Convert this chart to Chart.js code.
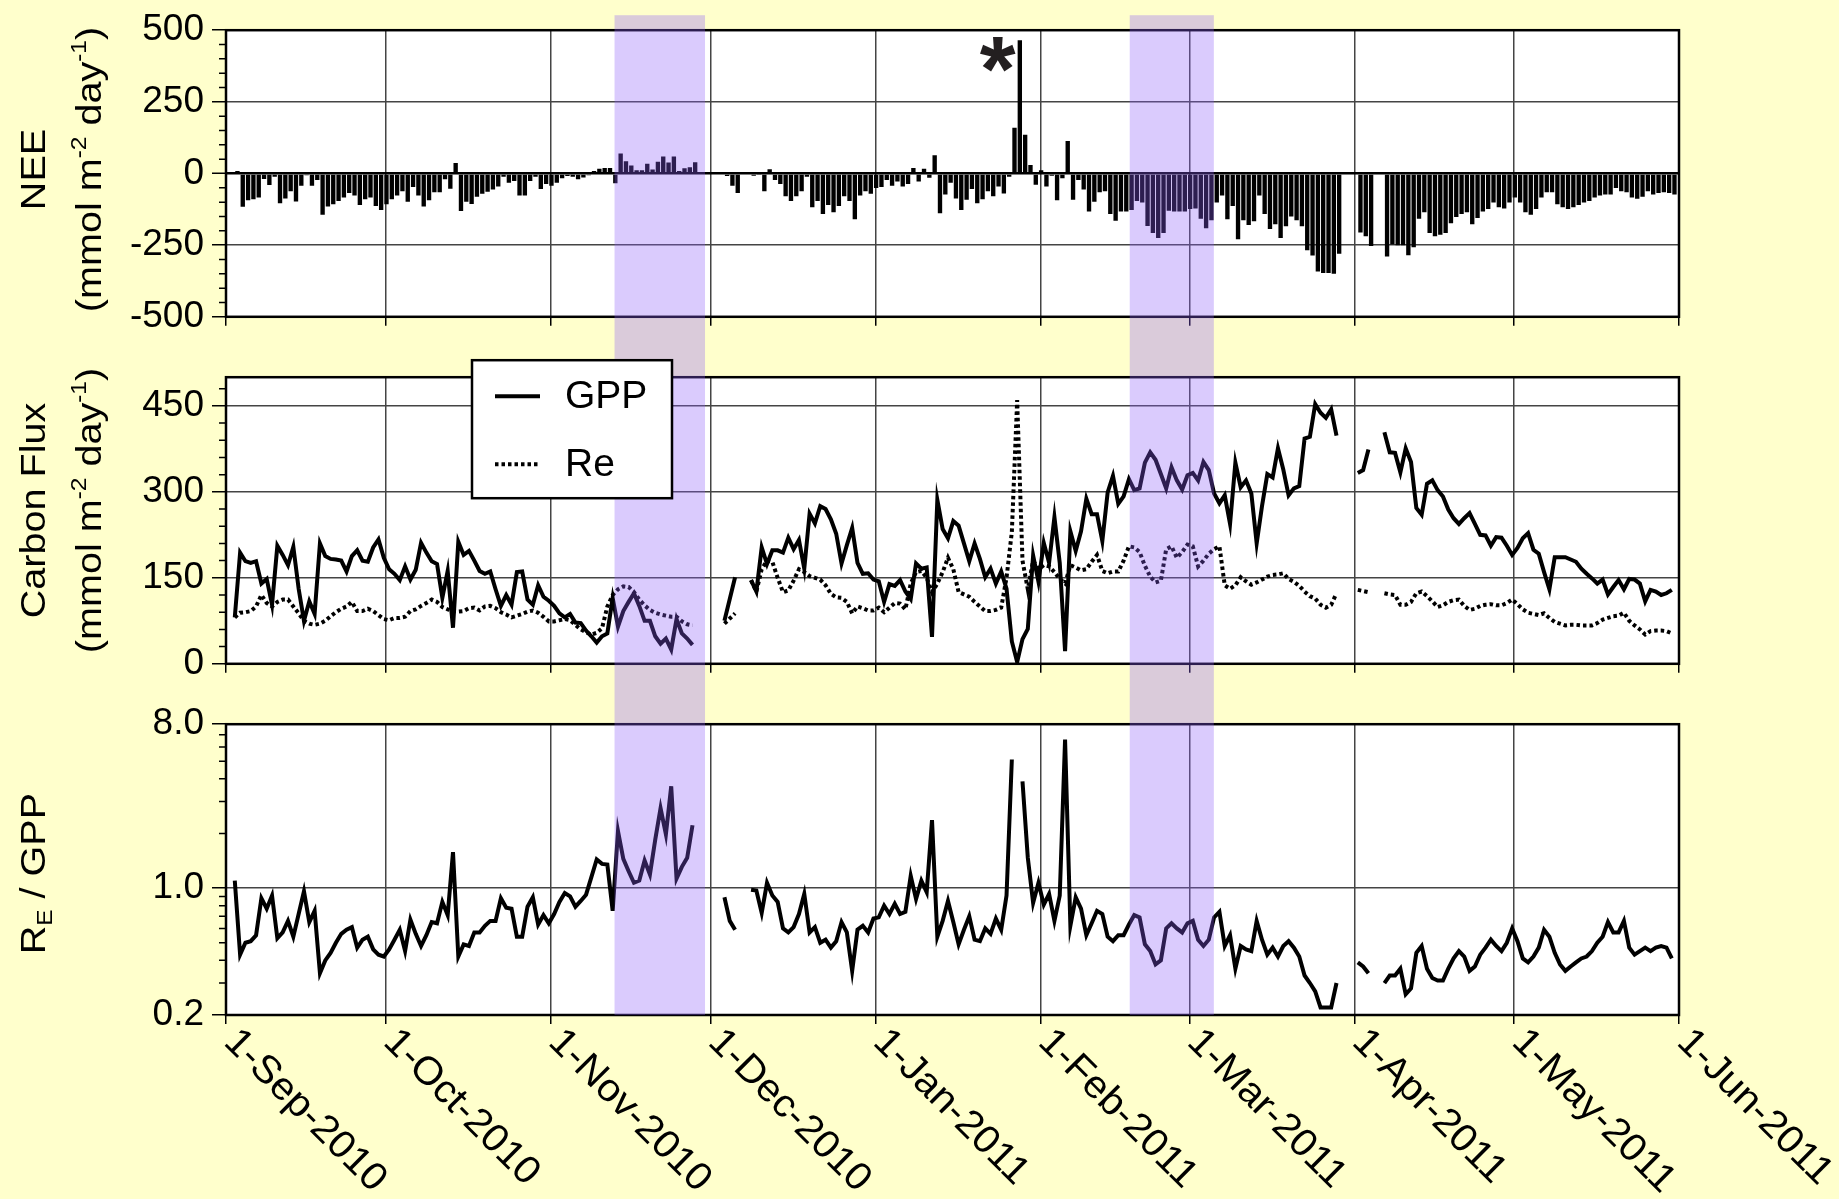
<!DOCTYPE html>
<html>
<head>
<meta charset="utf-8">
<title>NEE, GPP, Re and Re/GPP</title>
<script src="https://cdn.jsdelivr.net/npm/chart.js@4.4.1/dist/chart.umd.min.js"></script>
<style>
  html, body { margin: 0; padding: 0; background: #ffffcc; }
  #wrap { position: relative; width: 1839px; height: 1199px; background: #ffffcc; overflow: hidden; }
  #wrap canvas { position: absolute; left: 0; }
</style>
</head>
<body>
<div id="wrap">
  <canvas id="neeChart" width="1839" height="347" style="top:0px"></canvas>
  <canvas id="fluxChart" width="1839" height="347" style="top:347px"></canvas>
  <canvas id="ratioChart" width="1839" height="505" style="top:694px"></canvas>
</div>
<script>
// x axis is days since 1-Sep-2010
const monthTicks = [0, 30, 61, 91, 122, 153, 181, 212, 242, 273];
const monthLabels = ['1-Sep-2010', '1-Oct-2010', '1-Nov-2010', '1-Dec-2010', '1-Jan-2011',
  '1-Feb-2011', '1-Mar-2011', '1-Apr-2011', '1-May-2011', '1-Jun-2011'];

// shaded periods (day numbers)
const bandStart = [73, 169.8];
const bandEnd = [90, 185.6];

const neeTicks = [-500, -250, 0, 250, 500];
const fluxTicks = [0, 150, 300, 450];
const ratioTicks = [0.2, 1, 8];

// asterisk over the NEE spike
const starDay = 145;
const starValue = 415;

// daily NEE (mmol m-2 day-1), index = day number
const nee = [
  null, null, 9, -116, -93, -90, -84, -19, -40, -11,
  -104, -87, -62, -98, -43, -6, -43, -23, -144, -115,
  -107, -96, -84, -68, -77, -110, -90, -84, -113, -127,
  -107, -90, -77, -62, -99, -47, -77, -115, -93, -65,
  -65, -20, -53, 37, -131, -99, -106, -81, -71, -64,
  -56, -45, -11, -32, -26, -77, -77, -26, -11, -54,
  -37, -43, -32, -17, -9, -11, -20, -14, -6, 9,
  17, 19, 19, -34, 70, 43, 28, 11, 11, 34,
  14, 41, 59, 38, 59, 9, 18, 22, 39, null,
  null, null, null, null, -9, -43, -68, null, null, -8,
  -5, -62, 15, -23, -37, -79, -96, -79, -62, -11,
  -118, -96, -141, -110, -135, -113, -79, -96, -160, -77,
  -62, -71, -51, -47, -23, -43, -28, -45, -37, 19,
  -28, 17, -15, 64, -139, -73, -32, -87, -127, -92,
  -54, -104, -90, -62, -79, -45, -70, -11, 160, 465,
  135, 30, -39, 11, -45, -8, -93, -17, 113, -92,
  -23, -56, -133, -99, -65, -62, -141, -165, -133, -133,
  -127, -96, -101, -183, -208, -225, -208, -130, -133, -133,
  -133, -124, -122, -158, -191, -163, -101, -77, -160, -113,
  -229, -163, -180, -167, -77, -141, -194, -177, -225, -184,
  -150, -163, -184, -268, -286, -342, -347, -347, -350, -280,
  null, null, null, -206, -219, -253, null, null, -290, -248,
  -250, -250, -285, -257, -158, -135, -208, -219, -214, -208,
  -174, -152, -141, -135, -177, -155, -133, -124, -101, -118,
  -122, -101, -84, -101, -135, -144, -124, -84, -65, -65,
  -107, -118, -124, -118, -110, -101, -96, -84, -77, -73,
  -73, -51, -62, -65, -84, -88, -81, -62, -73, -68,
  -65, -68, -73
];

// daily GPP
const gpp = [
  null, 81, 194, 179, 176, 179, 140, 148, 103, 206,
  190, 172, 204, 131, 75, 109, 87, 210, 188, 183,
  182, 180, 161, 188, 198, 180, 178, 203, 217, 185,
  165, 157, 146, 170, 147, 164, 211, 194, 179, 174,
  115, 162, 63, 213, 190, 197, 180, 162, 157, 161,
  130, 101, 120, 103, 160, 161, 112, 103, 137, 117,
  110, 101, 88, 81, 87, 72, 71, 58, 48, 37,
  48, 53, 115, 65, 92, 108, 123, 101, 75, 75,
  48, 35, 44, 25, 78, 53, 44, 33, null, null,
  null, null, null, 75, 113, 151, null, null, 146, 126,
  203, 174, 198, 198, 194, 220, 200, 216, 166, 262,
  245, 275, 270, 252, 227, 175, 207, 237, 176, 157,
  158, 147, 144, 108, 139, 136, 146, 126, 113, 175,
  166, 168, 47, 286, 235, 219, 249, 241, 210, 179,
  210, 183, 151, 166, 140, 161, 131, 39, 3, 43,
  61, 189, 143, 211, 176, 256, 176, 22, 231, 197,
  231, 288, 261, 261, 214, 299, 328, 279, 292, 322,
  303, 306, 351, 369, 356, 331, 306, 343, 320, 304,
  329, 333, 320, 352, 338, 297, 280, 294, 244, 351,
  308, 320, 297, 210, 275, 331, 325, 376, 339, 294,
  306, 310, 393, 396, 453, 438, 429, 444, 398, null,
  null, null, 333, 338, 374, null, null, 404, 369, 368,
  334, 376, 352, 272, 260, 314, 320, 303, 292, 269,
  254, 244, 254, 263, 244, 225, 224, 206, 221, 220,
  206, 190, 202, 219, 228, 199, 192, 160, 130, 186,
  186, 186, 182, 178, 166, 157, 149, 140, 147, 121,
  134, 146, 130, 148, 147, 140, 109, 129, 126, 120,
  123, 129, null
];

// daily ecosystem respiration
const re = [
  null, 81, 89, 90, 92, 100, 120, 106, 100, 108,
  112, 112, 100, 88, 75, 70, 68, 70, 75, 83,
  90, 96, 100, 108, 92, 92, 96, 92, 85, 78,
  76, 80, 80, 82, 92, 95, 101, 106, 112, 108,
  99, 95, 92, 91, 92, 97, 98, 93, 100, 101,
  97, 90, 86, 81, 84, 87, 91, 93, 89, 82,
  74, 74, 76, 78, 76, 68, 60, 55, 51, 54,
  62, 100, 120, 130, 135, 134, 125, 112, 102, 94,
  89, 86, 84, 82, 82, 74, 69, 67, null, null,
  null, null, null, 70, 79, 88, null, null, 146, 126,
  165, 180, 178, 150, 125, 128, 145, 165, 160, 153,
  150, 147, 137, 122, 116, 115, 108, 88, 100, 97,
  93, 93, 98, 90, 98, 106, 105, 95, 140, 160,
  162, 150, 125, 140, 160, 185, 165, 125, 121, 117,
  108, 100, 92, 92, 94, 98, 150, 230, 460, 180,
  130, 180, 165, 172, 170, 160, 148, 140, 172, 168,
  163, 165, 178, 190, 162, 158, 161, 161, 180, 205,
  203, 195, 171, 152, 142, 145, 200, 205, 185, 195,
  208, 205, 170, 180, 192, 200, 205, 137, 131, 137,
  151, 144, 138, 142, 147, 152, 155, 156, 158, 148,
  143, 136, 126, 118, 114, 103, 98, 103, 123, null,
  null, null, 129, 127, 125, null, null, 123, 121, 120,
  103, 103, 108, 123, 126, 118, 109, 99, 102, 108,
  111, 112, 101, 94, 96, 101, 103, 104, 102, 102,
  106, 112, 104, 95, 89, 87, 85, 88, 80, 73,
  70, 67, 68, 68, 67, 67, 67, 71, 77, 80,
  83, 84, 89, 75, 67, 60, 51, 57, 58, 58,
  57, 53, null
];

// daily Re / GPP
const ratio = [
  null, 1.10, 0.43, 0.50, 0.51, 0.55, 0.88, 0.77, 0.91, 0.53,
  0.57, 0.66, 0.54, 0.72, 0.96, 0.65, 0.75, 0.34, 0.40, 0.44,
  0.50, 0.56, 0.59, 0.61, 0.47, 0.52, 0.54, 0.46, 0.43, 0.42,
  0.46, 0.52, 0.59, 0.45, 0.67, 0.56, 0.48, 0.55, 0.65, 0.64,
  0.84, 0.71, 1.58, 0.42, 0.49, 0.48, 0.57, 0.57, 0.62, 0.66,
  0.66, 0.88, 0.78, 0.77, 0.54, 0.54, 0.79, 0.89, 0.63, 0.71,
  0.64, 0.72, 0.84, 0.94, 0.90, 0.79, 0.85, 0.92, 1.15, 1.44,
  1.36, 1.35, 0.75, 2.06, 1.45, 1.24, 1.07, 1.10, 1.42, 1.19,
  1.85, 2.76, 1.98, 3.64, 1.13, 1.31, 1.47, 2.22, null, null,
  null, null, null, 0.89, 0.66, 0.59, null, null, 0.98, 0.97,
  0.73, 1.07, 0.91, 0.84, 0.60, 0.57, 0.61, 0.72, 0.93, 0.57,
  0.61, 0.50, 0.52, 0.47, 0.51, 0.65, 0.57, 0.35, 0.59, 0.62,
  0.57, 0.68, 0.69, 0.80, 0.72, 0.82, 0.72, 0.74, 1.17, 0.87,
  1.10, 0.95, 2.37, 0.54, 0.66, 0.85, 0.65, 0.49, 0.59, 0.70,
  0.52, 0.51, 0.60, 0.56, 0.68, 0.59, 0.91, 5.11, null, 3.87,
  1.47, 0.83, 1.07, 0.81, 0.93, 0.66, 0.91, 6.58, 0.62, 0.89,
  0.77, 0.55, 0.64, 0.75, 0.72, 0.54, 0.51, 0.55, 0.55, 0.63,
  0.71, 0.69, 0.49, 0.45, 0.38, 0.40, 0.60, 0.64, 0.60, 0.57,
  0.64, 0.66, 0.52, 0.48, 0.52, 0.69, 0.74, 0.48, 0.55, 0.36,
  0.48, 0.46, 0.45, 0.66, 0.52, 0.43, 0.47, 0.42, 0.48, 0.51,
  0.47, 0.42, 0.33, 0.30, 0.27, 0.22, 0.22, 0.22, 0.30, null,
  null, null, 0.39, 0.37, 0.34, null, null, 0.30, 0.33, 0.33,
  0.36, 0.26, 0.28, 0.44, 0.48, 0.36, 0.32, 0.31, 0.31, 0.36,
  0.41, 0.45, 0.42, 0.35, 0.37, 0.43, 0.47, 0.52, 0.48, 0.45,
  0.50, 0.60, 0.51, 0.41, 0.39, 0.42, 0.47, 0.59, 0.54, 0.44,
  0.38, 0.35, 0.37, 0.39, 0.41, 0.42, 0.45, 0.50, 0.54, 0.65,
  0.57, 0.57, 0.66, 0.47, 0.43, 0.45, 0.47, 0.45, 0.47, 0.48,
  0.47, 0.41, null
];

// minor tick marks on the y axes
const neeMinor = [];
for (let v = -450; v < 500; v += 50) if (v % 250 !== 0) neeMinor.push(v);
const fluxMinor = [];
for (let v = 30; v < 500; v += 30) if (v % 150 !== 0) fluxMinor.push(v);
const ratioMinor = [0.3, 0.4, 0.5, 0.6, 0.7, 0.8, 0.9, 2, 3, 4, 5, 6, 7];

const FONT = '"Liberation Sans", Arial, Helvetica, sans-serif';
const SHADE = 'rgba(140, 94, 250, 0.32)';
Chart.defaults.font.family = FONT;

function setFont(ctx, size, bold) {
  ctx.font = (bold ? 'bold ' : '') + size + 'px ' + FONT;
}

// text with superscript / subscript parts, centred on the current origin
function drawRich(ctx, parts, size) {
  const small = size * 0.62;
  let w = 0;
  parts.forEach(p => { setFont(ctx, p.sup || p.sub ? small : size); w += ctx.measureText(p.t).width; });
  let x = -w / 2;
  ctx.textAlign = 'left';
  ctx.textBaseline = 'alphabetic';
  parts.forEach(p => {
    setFont(ctx, p.sup || p.sub ? small : size);
    let y = size * 0.36;
    if (p.sup) y -= size * 0.42;
    if (p.sub) y += size * 0.2;
    ctx.fillText(p.t, x, y);
    x += ctx.measureText(p.t).width;
  });
}

// white plot area, frame, minor ticks, titles, shading, legend
const panel = {
  id: 'panel',
  beforeDraw(chart) {
    const { ctx, chartArea: a } = chart;
    ctx.save();
    ctx.fillStyle = '#ffffff';
    ctx.fillRect(a.left, a.top, a.right - a.left, a.bottom - a.top);
    ctx.restore();
  },
  afterDraw(chart, args, o) {
    const { ctx, chartArea: a } = chart;
    const xs = chart.scales.x, ys = chart.scales.y;
    ctx.save();

    ctx.strokeStyle = '#000';
    ctx.lineWidth = 2.5;
    ctx.strokeRect(a.left, a.top, a.right - a.left, a.bottom - a.top);

    ctx.lineWidth = 1.5;
    ctx.beginPath();
    o.minorTicks.forEach(v => {
      const py = ys.getPixelForValue(v);
      ctx.moveTo(a.left - 7, py);
      ctx.lineTo(a.left, py);
    });
    ctx.stroke();

    // y axis title
    ctx.fillStyle = '#000';
    const cy = (a.top + a.bottom) / 2 + o.titleShift;
    o.title.forEach((line, k) => {
      ctx.save();
      ctx.translate(o.titleX[k], cy);
      ctx.rotate(-Math.PI / 2);
      ctx.scale(1.13, 1);
      drawRich(ctx, line, 35);
      ctx.restore();
    });

    // slanted date labels under the bottom panel
    if (o.dateLabels) {
      setFont(ctx, 39);
      ctx.textAlign = 'left';
      ctx.textBaseline = 'middle';
      monthTicks.forEach((v, k) => {
        ctx.save();
        ctx.translate(xs.getPixelForValue(v) + 4, a.bottom + 21);
        ctx.rotate(Math.PI / 4);
        ctx.scale(1.04, 1);
        ctx.fillText(monthLabels[k], 0, 0);
        ctx.restore();
      });
    }

    // shaded periods
    ctx.fillStyle = SHADE;
    const top = o.bandAbove === null ? 0 : a.top - o.bandAbove;
    const bottom = o.bandToArea ? a.bottom : chart.height;
    bandStart.forEach((b, k) => {
      const x0 = xs.getPixelForValue(b), x1 = xs.getPixelForValue(bandEnd[k]);
      ctx.fillRect(x0, top, x1 - x0, bottom - top);
    });

    if (o.legend) {
      const bx = a.left + 246, by = a.top - 17;
      ctx.fillStyle = '#fff';
      ctx.fillRect(bx, by, 200, 138);
      ctx.strokeStyle = '#000';
      ctx.lineWidth = 2.5;
      ctx.strokeRect(bx, by, 200, 138);
      chart.data.datasets.forEach((ds, k) => {
        const ly = by + 36 + k * 68;
        ctx.beginPath();
        ctx.setLineDash(ds.borderDash || []);
        ctx.lineWidth = ds.borderWidth;
        ctx.moveTo(bx + 23, ly);
        ctx.lineTo(bx + 68, ly);
        ctx.stroke();
        ctx.setLineDash([]);
        setFont(ctx, 39);
        ctx.fillStyle = '#000';
        ctx.textAlign = 'left';
        ctx.textBaseline = 'middle';
        ctx.fillText(ds.label, bx + 93, ly + 1);
      });
    }

    if (o.star) {
      setFont(ctx, 92, true);
      ctx.textAlign = 'center';
      ctx.textBaseline = 'alphabetic';
      const m = ctx.measureText('*');
      ctx.fillStyle = '#231f20';
      ctx.fillText('*', xs.getPixelForValue(starDay),
        ys.getPixelForValue(starValue) + (m.actualBoundingBoxAscent - m.actualBoundingBoxDescent) / 2);
    }
    ctx.restore();
  }
};

function xAxis(height) {
  return {
    type: 'linear', min: 0, max: 273, offset: false,
    afterBuildTicks: s => { s.ticks = monthTicks.map(v => ({ value: v })); },
    afterFit: s => { s.height = height; },
    ticks: { display: false },
    border: { display: false },
    grid: { offset: false, color: '#444', lineWidth: 1.5, tickLength: 9, tickColor: '#000', tickWidth: 1.5 }
  };
}

function yAxis(tickValues, extra) {
  return Object.assign({
    afterBuildTicks: s => { s.ticks = tickValues.map(v => ({ value: v })); },
    afterFit: s => { s.width = 226; },
    border: { display: false },
    ticks: { color: '#000', font: { size: 37 }, padding: 8, autoSkip: false },
    grid: { color: '#444', lineWidth: 1.5, tickLength: 14, tickColor: '#000', tickWidth: 1.5 }
  }, extra);
}

function options(padTop, xHeight, yScale, panelOpts) {
  return {
    responsive: false, animation: false, devicePixelRatio: 1, events: [],
    layout: { padding: { top: padTop, right: 160, bottom: 0, left: 0 } },
    scales: { x: xAxis(xHeight), y: yScale },
    plugins: { legend: { display: false }, tooltip: { enabled: false }, panel: panelOpts }
  };
}

const unitParts = [{ t: '(mmol m' }, { t: '-2', sup: true }, { t: ' day' }, { t: '-1', sup: true }, { t: ')' }];

// NEE bars
new Chart(document.getElementById('neeChart'), {
  type: 'bar',
  data: {
    datasets: [{
      label: 'NEE',
      data: nee.map((v, i) => ({ x: i + 0.15, y: v })),
      backgroundColor: '#000',
      borderWidth: 0,
      barPercentage: 0.82,
      categoryPercentage: 1
    }]
  },
  options: options(26, 25, yAxis(neeTicks, {
    min: -500, max: 500,
    grid: {
      color: c => (c.tick && c.tick.value === 0 ? '#000' : '#444'),
      lineWidth: c => (c.tick && c.tick.value === 0 ? 2.5 : 1.5),
      tickLength: 14, tickColor: '#000', tickWidth: 1.5
    }
  }), {
    minorTicks: neeMinor, title: [[{ t: 'NEE' }], unitParts], titleX: [32, 88], titleShift: -4,
    bandAbove: 15, bandToArea: false, star: true
  }),
  plugins: [panel]
});

// GPP and Re lines
new Chart(document.getElementById('fluxChart'), {
  type: 'line',
  data: {
    datasets: [
      { label: 'GPP', data: gpp.map((v, i) => ({ x: i + 0.65, y: v })),
        borderColor: '#000', borderWidth: 4, pointRadius: 0, tension: 0 },
      { label: 'Re', data: re.map((v, i) => ({ x: i + 0.65, y: v })),
        borderColor: '#000', borderWidth: 4, borderDash: [3.5, 3], pointRadius: 0, tension: 0 }
    ]
  },
  options: options(25, 27, yAxis(fluxTicks, { min: 0, max: 500 }), {
    minorTicks: fluxMinor, title: [[{ t: 'Carbon Flux' }], unitParts], titleX: [32, 88], titleShift: -10,
    bandAbove: null, bandToArea: false, legend: true
  }),
  plugins: [panel]
});

// Re / GPP on a log axis
new Chart(document.getElementById('ratioChart'), {
  type: 'line',
  data: {
    datasets: [
      { label: 'Re/GPP', data: ratio.map((v, i) => ({ x: i + 0.65, y: v })),
        borderColor: '#000', borderWidth: 4, pointRadius: 0, tension: 0 }
    ]
  },
  options: options(26, 184, yAxis(ratioTicks, {
    type: 'logarithmic', min: 0.2, max: 8,
    ticks: { color: '#000', font: { size: 37 }, padding: 8, autoSkip: false, callback: v => Number(v).toFixed(1) }
  }), {
    minorTicks: ratioMinor, title: [[{ t: 'R' }, { t: 'E', sub: true }, { t: ' / GPP' }]], titleX: [32], titleShift: 4,
    bandAbove: null, bandToArea: true, dateLabels: true
  }),
  plugins: [panel]
});
</script>
</body>
</html>
